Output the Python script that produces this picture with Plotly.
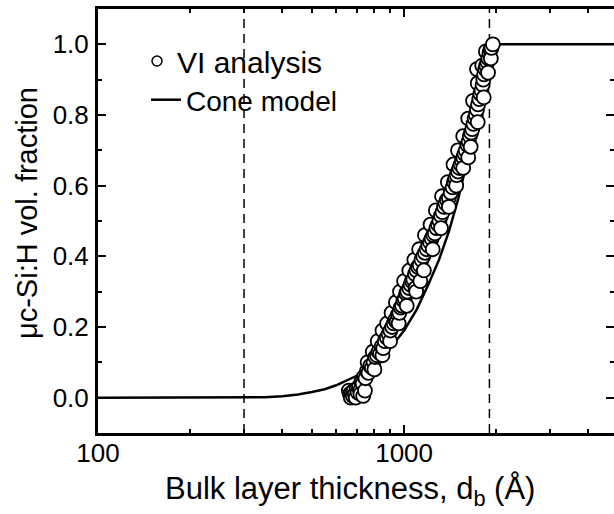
import numpy as np
import plotly.graph_objects as go

# ---- data ----
vi_thickness = [660, 665, 670, 675, 680, 685, 690, 695, 700, 705, 712, 718, 720, 725, 732, 735, 745,
                740, 748, 756, 765, 775, 785, 795, 805, 815,
                825, 835, 845, 855, 865, 878, 890, 902, 914,
                925, 935, 945, 955, 965, 975, 985, 995, 1005, 1015, 1025, 1040, 1050,
                1060, 1072, 1085, 1095, 1098, 1110, 1125, 1130, 1140, 1155, 1170, 1185, 1200, 1215,
                1230, 1245, 1260, 1275, 1290, 1305, 1320, 1335, 1350, 1365, 1380, 1400,
                1420, 1440, 1455, 1470, 1485, 1500, 1515, 1530, 1545, 1560, 1575, 1590, 1610, 1620, 1625,
                1640, 1655, 1670, 1685, 1700, 1715, 1730, 1730, 1745, 1760, 1775, 1790, 1805, 1815, 1825,
                1840, 1855, 1870, 1885, 1900, 1915, 1930, 1950,
                760, 790, 820, 850, 880, 910, 940, 970, 1000, 1040, 1080, 1120, 1170, 1220, 1270,
                1330, 1390, 1450, 1500, 1560, 1620, 1680, 1740, 1800, 1850,
                800, 850, 900, 960, 1020, 1090, 1160, 1240, 1320, 1400, 1480, 1560, 1650, 1740,
                1820, 1880, 1920]
vi_fraction = [0.02, 0.01, 0.00, 0.015, 0.005, 0.02, 0.01, 0.0, 0.025, 0.015, 0.03, 0.02, 0.01, 0.045, 0.04, 0.005, 0.02,
               0.06, 0.055, 0.075, 0.07, 0.09, 0.085, 0.10, 0.115, 0.12,
               0.13, 0.125, 0.145, 0.14, 0.16, 0.17, 0.18, 0.19, 0.20,
               0.21, 0.22, 0.215, 0.235, 0.24, 0.255, 0.26, 0.275, 0.28, 0.295, 0.30, 0.31, 0.32,
               0.33, 0.335, 0.35, 0.30, 0.36, 0.37, 0.375, 0.33, 0.39, 0.40, 0.41, 0.42, 0.43, 0.44,
               0.45, 0.46, 0.465, 0.48, 0.49, 0.50, 0.515, 0.525, 0.54, 0.55, 0.56, 0.565,
               0.58, 0.595, 0.61, 0.62, 0.63, 0.64, 0.65, 0.66, 0.67, 0.68, 0.69, 0.70, 0.715, 0.68, 0.725,
               0.74, 0.75, 0.76, 0.775, 0.79, 0.80, 0.815, 0.93, 0.83, 0.845, 0.86, 0.87, 0.885, 0.90, 0.915,
               0.93, 0.94, 0.95, 0.96, 0.975, 0.985, 0.99, 1.0,
               0.10, 0.13, 0.16, 0.19, 0.21, 0.24, 0.27, 0.30, 0.33, 0.36, 0.39, 0.42, 0.46, 0.49, 0.53,
               0.57, 0.61, 0.66, 0.70, 0.74, 0.79, 0.84, 0.89, 0.94, 0.98,
               0.08, 0.12, 0.16, 0.21, 0.26, 0.31, 0.36, 0.42, 0.48, 0.54, 0.60, 0.65, 0.71, 0.78,
               0.85, 0.92, 0.96]

cone_thickness = [100, 300, 350, 400, 450, 500, 550, 600, 650, 700, 750, 800, 850, 900, 950, 1000,
                  1100, 1200, 1300, 1400, 1500, 1600, 1700, 1800, 1900, 5000]
cone_fraction = [0.0, 0.0, 0.001, 0.004, 0.009, 0.016, 0.024, 0.035, 0.048, 0.062, 0.079, 0.098, 0.118,
                 0.14, 0.165, 0.19, 0.25, 0.32, 0.39, 0.47, 0.56, 0.66, 0.76, 0.88, 1.0, 1.0]

boundary_thickness = [300, 1900]

x_major_ticks = [100, 1000]
x_major_labels = ["100", "1000"]
x_minor_ticks = [200, 300, 400, 500, 600, 700, 800, 900, 2000, 3000, 4000]
y_major_ticks = [0.0, 0.2, 0.4, 0.6, 0.8, 1.0]
y_major_labels = ["0.0", "0.2", "0.4", "0.6", "0.8", "1.0"]
y_minor_ticks = [-0.1, 0.1, 0.3, 0.5, 0.7, 0.9, 1.1]

FONT = "Arial, Liberation Sans, sans-serif"
W, H = 614, 514
ML, MT, MB, MR = 98, 9, 81, 0
PW, PH = W - ML - MR, H - MT - MB

# draw points in order of thickness so rows interleave like the measured series
order = np.argsort(np.array(vi_thickness), kind="stable")
vi_x = np.array(vi_thickness)[order]
vi_y = np.array(vi_fraction)[order]

fig = go.Figure()

for bx in boundary_thickness:
    fig.add_trace(go.Scatter(x=[bx, bx], y=[-0.1, 1.1], mode="lines",
                             line=dict(color="black", width=1.5, dash="9px,6px"),
                             showlegend=False, hoverinfo="skip"))

fig.add_trace(go.Scatter(x=cone_thickness, y=cone_fraction, mode="lines",
                         line=dict(color="black", width=2.5), showlegend=False))

fig.add_trace(go.Scatter(x=vi_x, y=vi_y, mode="markers",
                         marker=dict(symbol="circle", size=14, color="white",
                                     line=dict(color="black", width=1.8)),
                         showlegend=False))

# legend-only entries
fig.add_trace(go.Scatter(x=[None], y=[None], mode="markers", name="VI analysis",
                         marker=dict(symbol="circle", size=10, color="white",
                                     line=dict(color="black", width=1.5)),
                         legend="legend"))
fig.add_trace(go.Scatter(x=[None], y=[None], mode="lines", name="Cone model",
                         line=dict(color="black", width=2.5), legend="legend2"))

# right-side mirrored y ticks without an axis line
fig.add_trace(go.Scatter(x=[None], y=[None], yaxis="y2", showlegend=False))

def px_x(p):
    return (p - ML) / PW

def px_y(p):
    return (H - MB - p) / PH

axis_common = dict(ticks="inside", tickwidth=2, tickcolor="black", linecolor="black",
                   showgrid=False, zeroline=False, automargin=False,
                   tickfont=dict(family=FONT, size=26, color="black"))

fig.update_layout(
    width=W, height=H,
    margin=dict(l=ML, r=MR, t=MT, b=MB, autoexpand=False),
    paper_bgcolor="white", plot_bgcolor="white",
    xaxis=dict(type="log", range=[2, np.log10(4850)], showline=True, linewidth=3, mirror="ticks",
               tickmode="array", tickvals=x_major_ticks, ticktext=x_major_labels, ticklen=8,
               ticklabelstandoff=-5,
               minor=dict(tickmode="array", tickvals=x_minor_ticks, ticks="inside", ticklen=4,
                          tickwidth=2, tickcolor="black"),
               **axis_common),
    yaxis=dict(range=[-0.1, 1.1], showline=True, linewidth=3, mirror=False,
               tickmode="array", tickvals=y_major_ticks, ticktext=y_major_labels, ticklen=8,
               ticklabelstandoff=1,
               minor=dict(tickmode="array", tickvals=y_minor_ticks, ticks="inside", ticklen=4,
                          tickwidth=2, tickcolor="black"),
               **axis_common),
    yaxis2=dict(range=[-0.1, 1.1], overlaying="y", side="right", showline=False,
                tickmode="array", tickvals=y_major_ticks, ticklen=8, showticklabels=False,
                minor=dict(tickmode="array", tickvals=y_minor_ticks, ticks="inside", ticklen=4,
                           tickwidth=2, tickcolor="black"),
                **axis_common),
    legend=dict(x=px_x(137), y=px_y(61), xanchor="left", yanchor="middle",
                bgcolor="rgba(0,0,0,0)", font=dict(family=FONT, size=30, color="black")),
    legend2=dict(x=px_x(146), y=px_y(100), xanchor="left", yanchor="middle",
                 bgcolor="rgba(0,0,0,0)", font=dict(family=FONT, size=28, color="black")),
    annotations=[
        dict(text="\u03bcc-Si:H vol. fraction", xref="paper", yref="paper",
             x=px_x(27), y=px_y(213), xanchor="center", yanchor="middle",
             textangle=-90, showarrow=False, font=dict(family=FONT, size=29, color="black")),
        dict(text="Bulk layer thickness, d<sub>b</sub> (\u00c5)", xref="paper", yref="paper",
             x=px_x(350), y=px_y(491), xanchor="center", yanchor="middle",
             showarrow=False, font=dict(family=FONT, size=31, color="black")),
    ],
)

fig.write_html("out.html", config={"displayModeBar": False},
               post_script="document.body.style.margin='0px';")
